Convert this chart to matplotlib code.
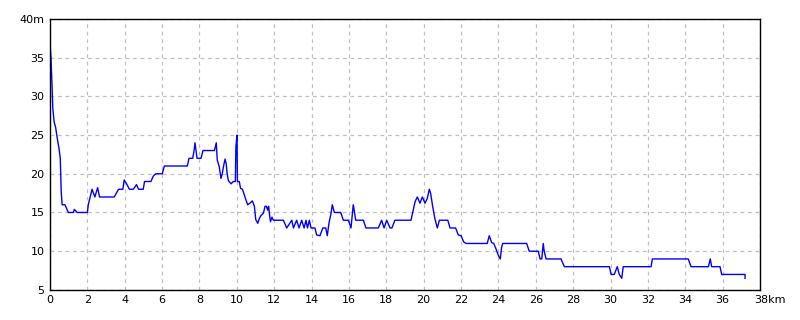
import matplotlib
matplotlib.use("Agg")
import matplotlib.pyplot as plt
from matplotlib.transforms import ScaledTranslation

# distance (km) / depth-like value (m)
dist = [0.0, 0.05, 0.1, 0.15, 0.22, 0.3, 0.4, 0.48, 0.55, 0.6, 0.65, 0.8, 0.98,
        1.25, 1.3, 1.46, 2.0, 2.05, 2.2, 2.25, 2.4, 2.55, 2.65, 3.44, 3.55, 3.67,
        3.9, 3.97, 4.1, 4.25, 4.46, 4.63, 4.74, 4.99, 5.06, 5.4, 5.53, 5.66, 6.01,
        6.12, 7.35, 7.44, 7.64, 7.71, 7.76, 7.87, 8.08, 8.19, 8.8, 8.9, 8.95,
        9.06, 9.15, 9.22, 9.29, 9.37, 9.43, 9.48, 9.55, 9.69, 9.81, 9.92, 9.95,
        10.01, 10.03, 10.13, 10.2, 10.3, 10.38, 10.49, 10.58, 10.7, 10.83, 10.94,
        11.01, 11.12, 11.2, 11.29, 11.42, 11.51, 11.58, 11.65, 11.7, 11.76, 11.8,
        11.88, 11.95, 12.49, 12.67, 12.94, 13.03, 13.2, 13.33, 13.47, 13.6, 13.7,
        13.78, 13.88, 13.97, 14.18, 14.27, 14.45, 14.6, 14.76, 14.84, 14.93,
        15.04, 15.11, 15.22, 15.56, 15.7, 15.97, 16.04, 16.11, 16.23, 16.3,
        16.36, 16.77, 16.91, 17.57, 17.66, 17.75, 17.88, 18.02, 18.2, 18.3,
        18.46, 19.32, 19.41, 19.54, 19.66, 19.8, 19.93, 20.07, 20.19, 20.3,
        20.37, 20.48, 20.6, 20.73, 20.84, 21.29, 21.41, 21.71, 21.85, 22.0,
        22.14, 22.27, 23.4, 23.51, 23.64, 23.75, 23.87, 23.99, 24.1, 24.17,
        24.23, 25.51, 25.65, 26.13, 26.23, 26.32, 26.4, 26.45, 26.55, 27.35,
        27.53, 29.94, 30.03, 30.2, 30.36, 30.47, 30.6, 30.68, 32.17, 32.24,
        34.16, 34.31, 35.24, 35.34, 35.41, 35.86, 35.95, 37.2, 37.2]
depth = [36.8, 35.0, 32.0, 28.5, 26.7, 26.0, 24.4, 23.3, 22.0, 17.7, 16.0, 16.0, 15.0,
         15.0, 15.4, 15.0, 15.0, 16.0, 17.5, 18.0, 17.0, 18.2, 17.0, 17.0, 17.5, 18.0,
         18.0, 19.2, 18.7, 18.0, 18.0, 18.6, 18.0, 18.0, 19.0, 19.0, 19.7, 20.0, 20.0,
         21.0, 21.0, 22.0, 22.0, 23.0, 24.0, 22.0, 22.0, 23.0, 23.0, 24.0, 21.8,
         20.9, 19.4, 20.0, 21.0, 21.9, 21.3, 20.0, 19.1, 18.7, 19.0, 19.0, 23.5,
         25.0, 19.0, 19.0, 18.1, 18.0, 17.4, 16.6, 16.0, 16.2, 16.5, 15.8,
         14.1, 13.6, 14.2, 14.6, 14.9, 15.8, 15.8, 15.3, 15.8, 14.5, 13.8,
         14.4, 14.0, 14.0, 13.0, 14.0, 13.0, 14.0, 13.0, 14.0, 13.0, 14.0,
         13.0, 14.0, 13.0, 13.0, 12.1, 12.0, 13.0, 13.0, 12.0, 13.6,
         14.9, 16.0, 15.0, 15.0, 14.0, 14.0, 13.5, 13.0, 16.0, 15.0,
         14.0, 14.0, 13.0, 13.0, 13.5, 14.0, 13.0, 14.0, 13.0, 13.0,
         14.0, 14.0, 15.0, 16.4, 17.0, 16.2, 17.0, 16.2, 16.8, 18.0,
         17.5, 15.8, 14.2, 13.0, 14.0, 14.0, 13.0, 13.0, 12.1, 12.0,
         11.2, 11.0, 11.0, 12.0, 11.1, 11.0, 10.3, 9.5, 9.0, 10.5,
         11.0, 11.0, 10.0, 10.0, 9.0, 9.0, 11.0, 10.0, 9.0, 9.0,
         8.0, 8.0, 7.0, 7.0, 8.0, 7.0, 6.5, 8.0, 8.0, 9.0,
         9.0, 8.0, 8.0, 9.0, 8.0, 8.0, 7.0, 7.0, 6.5]

x_ticks = list(range(0, 39, 2))
x_labels = [str(v) for v in x_ticks[:-1]] + ["38km"]
y_ticks = list(range(5, 41, 5))
y_labels = [str(v) for v in y_ticks[:-1]] + ["40m"]

fig = plt.figure(figsize=(8, 3.2), dpi=100)
ax = fig.add_axes([0.0625, 0.094, 0.8875, 0.847])
ax.plot(dist, depth, color="#0000ff", linewidth=1.0)

ax.set_xlim(0, 38)
ax.set_ylim(5, 40)
ax.set_xticks(x_ticks)
ax.set_xticklabels(x_labels)
ax.set_yticks(y_ticks)
ax.set_yticklabels(y_labels)
ax.tick_params(length=0, labelsize=8, pad=4)
ax.grid(True, color="#c0c0c0", linestyle=(0, (3, 3)), linewidth=0.9)
for s in ax.spines.values():
    s.set_color("black")
    s.set_linewidth(1.0)

# "38km": keep the number under the tick, unit sticks out to the right
last = ax.get_xticklabels()[-1]
last.set_horizontalalignment("left")
last.set_transform(last.get_transform() + ScaledTranslation(-6 / 100, 0, fig.dpi_scale_trans))

fig.savefig("out.png", dpi=100)
